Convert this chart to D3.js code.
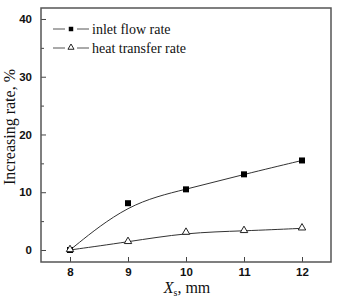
<!DOCTYPE html>
<html>
<head>
<meta charset="utf-8">
<script src="https://cdn.jsdelivr.net/npm/d3@7"></script>
<style>
  body { margin: 0; background: #fff; }
  svg { display: block; }
</style>
</head>
<body>
<svg id="chart" width="338" height="297"></svg>
<script>
// data
var xValues = [8, 9, 10, 11, 12];
var inletFlow = [0, 8.1, 10.5, 13.1, 15.5];
var heatTransfer = [0, 1.4, 3.0, 3.3, 3.75];
var xTicks = [8, 9, 10, 11, 12];
var yTicks = [0, 10, 20, 30, 40];
var yMinorTicks = [5, 15, 25, 35];
var seriesNames = ["inlet flow rate", "heat transfer rate"];

var svg = d3.select("#chart");
var plotLeft = 41, plotRight = 331, plotTop = 8, plotBottom = 262;

var x = d3.scaleLinear().domain([7.5, 12.5]).range([plotLeft, plotRight]);
var y = d3.scaleLinear().domain([-2.08, 41.9]).range([plotBottom, plotTop]);

// axes, ticks pointing inward
var xAxis = d3.axisBottom(x).tickValues(xTicks).tickSize(-5).tickPadding(6).tickFormat(d3.format("d"));
var yAxis = d3.axisLeft(y).tickValues(yTicks).tickSize(-5).tickPadding(10).tickFormat(d3.format("d"));
var yMinor = d3.axisLeft(y).tickValues(yMinorTicks).tickSize(-3).tickFormat("");

var gx = svg.append("g").attr("transform", "translate(0," + plotBottom + ")").call(xAxis);
var gy = svg.append("g").attr("transform", "translate(" + plotLeft + ",0)").call(yAxis);
var gym = svg.append("g").attr("transform", "translate(" + plotLeft + ",0)").call(yMinor);

[gx, gy, gym].forEach(function (g) {
    g.select(".domain").remove();
    g.selectAll(".tick line").attr("stroke", "#444").attr("stroke-width", 1);
    g.selectAll(".tick text")
        .attr("fill", "#111")
        .style("font-family", "'Liberation Sans', Arial, sans-serif")
        .style("font-weight", "bold")
        .style("font-size", "11.5px");
});
gy.selectAll(".tick text").attr("dx", "1px");

// frame
svg.append("rect")
    .attr("x", plotLeft).attr("y", plotTop)
    .attr("width", plotRight - plotLeft).attr("height", plotBottom - plotTop)
    .attr("fill", "none").attr("stroke", "#555").attr("stroke-width", 1.5);

// lines (smoothed like the original)
var line = function (vals) {
    return d3.line()
        .curve(d3.curveBasis)
        .x(function (d, i) { return x(xValues[i]); })
        .y(function (d) { return y(d); })(vals);
};
svg.append("path").attr("d", line(inletFlow)).attr("fill", "none").attr("stroke", "#333").attr("stroke-width", 1);
svg.append("path").attr("d", line(heatTransfer)).attr("fill", "none").attr("stroke", "#333").attr("stroke-width", 1);

var square = d3.symbol().type(d3.symbolSquare).size(36);
var triangle = d3.symbol().type(d3.symbolTriangle).size(24);

svg.selectAll(".sq").data(inletFlow).enter().append("path")
    .attr("class", "sq")
    .attr("d", square)
    .attr("transform", function (d, i) { return "translate(" + x(xValues[i]) + "," + y(d) + ")"; })
    .attr("fill", "#000");

svg.selectAll(".tri").data(heatTransfer).enter().append("path")
    .attr("class", "tri")
    .attr("d", triangle)
    .attr("transform", function (d, i) { return "translate(" + x(xValues[i]) + "," + (y(d) - 0.5) + ")"; })
    .attr("fill", "#fff").attr("stroke", "#222").attr("stroke-width", 1);

// legend
var legend = svg.append("g");
var smallSquare = d3.symbol().type(d3.symbolSquare).size(20);
var smallTriangle = d3.symbol().type(d3.symbolTriangle).size(16);
var rows = [29, 48];
rows.forEach(function (ry, i) {
    legend.append("line").attr("x1", 53).attr("x2", 65).attr("y1", ry).attr("y2", ry).attr("stroke", "#555");
    legend.append("line").attr("x1", 77).attr("x2", 89).attr("y1", ry).attr("y2", ry).attr("stroke", "#555");
    if (i === 0) {
        legend.append("path").attr("d", smallSquare).attr("transform", "translate(71," + ry + ")").attr("fill", "#000");
    } else {
        legend.append("path").attr("d", smallTriangle).attr("transform", "translate(71," + (ry - 0.5) + ")")
            .attr("fill", "#fff").attr("stroke", "#222");
    }
    legend.append("text")
        .attr("x", 92).attr("y", ry + 4.5)
        .style("font-family", "'Liberation Serif', 'Times New Roman', serif")
        .style("font-size", "14px")
        .attr("fill", "#111")
        .text(seriesNames[i]);
});

// axis titles
svg.append("text")
    .attr("transform", "translate(15," + 127 + ") rotate(-90)")
    .attr("text-anchor", "middle")
    .style("font-family", "'Liberation Serif', 'Times New Roman', serif")
    .style("font-size", "16px")
    .attr("fill", "#111")
    .text("Increasing rate, %");

var xt = svg.append("text")
    .attr("x", 187).attr("y", 293)
    .attr("text-anchor", "middle")
    .style("font-family", "'Liberation Serif', 'Times New Roman', serif")
    .style("font-size", "16px")
    .attr("fill", "#111");
xt.append("tspan").style("font-style", "italic").text("X");
xt.append("tspan").attr("dy", 3).style("font-size", "10px").text("s");
xt.append("tspan").attr("dy", -3).text(", mm");
</script>
</body>
</html>
